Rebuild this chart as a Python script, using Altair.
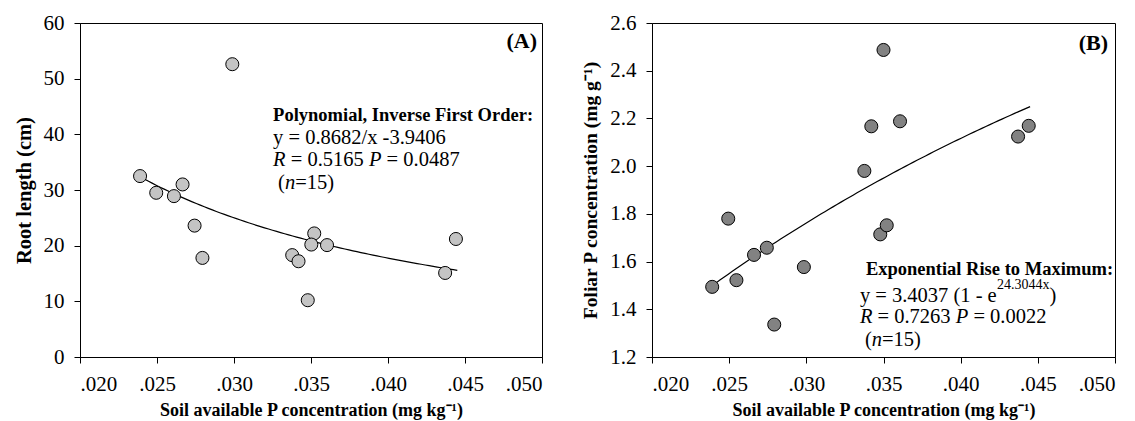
import altair as alt
import numpy as np
import pandas as pd

FONT = "Liberation Serif"

# ---------------- data ----------------
x_ticks = [0.020, 0.025, 0.030, 0.035, 0.040, 0.045, 0.050]
y_ticks_a = [0, 10, 20, 30, 40, 50, 60]
y_ticks_b = [1.2, 1.4, 1.6, 1.8, 2.0, 2.2, 2.4, 2.6]

soil_p_a = [0.0239, 0.02495, 0.0261, 0.02666, 0.02744, 0.02795, 0.02989, 0.03378,
            0.03419, 0.03479, 0.03521, 0.03502, 0.03604, 0.04371, 0.04441]
root_length = [32.5, 29.5, 28.9, 31.0, 23.6, 17.8, 52.6, 18.3,
               17.2, 10.2, 22.2, 20.2, 20.1, 15.1, 21.2]

soil_p_b = [0.0239, 0.02494, 0.02547, 0.02661, 0.02744, 0.02792, 0.02984, 0.03376,
            0.03421, 0.03479, 0.03521, 0.03500, 0.03607, 0.04372, 0.04441]
foliar_p = [1.494, 1.780, 1.522, 1.628, 1.658, 1.336, 1.577, 1.980,
            2.167, 1.714, 1.752, 2.487, 2.188, 2.124, 2.169]

# fitted equations printed on the chart
fit_a = (0.8682, -3.9406)        # y = a/x + b
fit_b = (3.4037, 24.3044)        # y = a(1 - e^(-b x))
fit_range = (0.0239, 0.0445)

xf = np.linspace(fit_range[0], fit_range[1], 80)
df_a = pd.DataFrame({"x": soil_p_a, "y": root_length})
df_b = pd.DataFrame({"x": soil_p_b, "y": foliar_p})
fa = pd.DataFrame({"x": xf, "y": fit_a[0] / xf + fit_a[1]})
fb = pd.DataFrame({"x": xf, "y": fit_b[0] * (1 - np.exp(-fit_b[1] * xf))})

x_title = "Soil available P concentration (mg kg\u207b\u00b9)"


def x_enc():
    return alt.X("x:Q", scale=alt.Scale(domain=[0.02, 0.05], nice=False, zero=False),
                 axis=alt.Axis(values=x_ticks, title=x_title,
                               labelExpr="substring(format(datum.value, '.3f'), 1)"))


def label(txt, xv, yv, dx=0, dy=0, size=20.5, weight="normal", style="normal", align="left"):
    return alt.Chart(alt.InlineData(values=[{"t": txt}])).mark_text(
        font=FONT, fontSize=size, fontWeight=weight, fontStyle=style, align=align,
        baseline="alphabetic", dx=dx, dy=dy, color="black"
    ).encode(x=alt.datum(xv), y=alt.datum(yv), text="t:N")


H = 334

# ---------------- panel A ----------------
ya = alt.Y("y:Q", scale=alt.Scale(domain=[0, 60], nice=False),
           axis=alt.Axis(values=y_ticks_a, title="Root length (cm)", format="d"))
pts_a = alt.Chart(df_a).mark_circle(size=170, fill="#c4c4c4", stroke="black",
                                    strokeWidth=1, opacity=1).encode(x=x_enc(), y=ya)
line_a = alt.Chart(fa).mark_line(color="black", strokeWidth=1.2).encode(x=x_enc(), y=ya)

ax, ay = 0.03254, 42.4
ann_a = [
    label("Polynomial, Inverse First Order:", ax, ay, weight="bold", size=18.5),
    label("y = 0.8682/x -3.9406", ax, ay, dy=23),
    label("R", ax, ay, dy=45, style="italic"),
    label("= 0.5165", ax, ay, dx=17.6, dy=45),
    label("P", ax, ay, dx=95.8, dy=45, style="italic"),
    label("= 0.0487", ax, ay, dx=113.5, dy=45),
    label("(", ax, ay, dx=5, dy=68),
    label("n", ax, ay, dx=11.8, dy=68, style="italic"),
    label("=15)", ax, ay, dx=22.1, dy=68),
    label("(A)", 0.05, 60, dx=-5, dy=25, weight="bold", size=22, align="right"),
]
chart_a = alt.layer(line_a, pts_a, *ann_a).properties(width=462, height=H)

# ---------------- panel B ----------------
yb = alt.Y("y:Q", scale=alt.Scale(domain=[1.2, 2.6], nice=False, zero=False),
           axis=alt.Axis(values=y_ticks_b, title="Foliar P concentration (mg g\u207b\u00b9)",
                         format=".1f", titleFontSize=19.5))
pts_b = alt.Chart(df_b).mark_circle(size=170, fill="#828282", stroke="black",
                                    strokeWidth=1, opacity=1).encode(x=x_enc(), y=yb)
line_b = alt.Chart(fb).mark_line(color="black", strokeWidth=1.2).encode(x=x_enc(), y=yb)

bx, by = 0.03347, 1.542
ann_b = [
    label("Exponential Rise to Maximum:", bx, by, dx=6, weight="bold", size=18.5),
    label("y = 3.4037 (1 - e", bx, by, dy=27),
    label("24.3044x", bx, by, dx=137, dy=14, size=14),
    label(")", bx, by, dx=189.5, dy=27),
    label("R", bx, by, dy=48, style="italic"),
    label("= 0.7263", bx, by, dx=17.6, dy=48),
    label("P", bx, by, dx=95.8, dy=48, style="italic"),
    label("= 0.0022", bx, by, dx=113.5, dy=48),
    label("(", bx, by, dx=5, dy=71),
    label("n", bx, by, dx=11.8, dy=71, style="italic"),
    label("=15)", bx, by, dx=22.1, dy=71),
    label("(B)", 0.05, 2.6, dx=-7, dy=27, weight="bold", size=22, align="right"),
]
chart_b = alt.layer(line_b, pts_b, *ann_b).properties(width=463, height=H)

chart = alt.hconcat(chart_a, chart_b, spacing=37).properties(
    padding={"left": 5, "top": 3, "right": 0, "bottom": 0}
).configure_view(stroke="black", strokeWidth=1).configure_axis(
    labelFont=FONT, labelFontSize=21, labelColor="black",
    titleFont=FONT, titleFontSize=20.5, titleFontWeight="bold", titleColor="black",
    domainColor="black", tickColor="black", tickSize=6, grid=False,
    labelPadding=10
).configure_axisX(titleFontSize=18, titlePadding=7).configure_axisY(titlePadding=9)

chart.save("out.html", embed_options={"renderer": "svg", "actions": False})
